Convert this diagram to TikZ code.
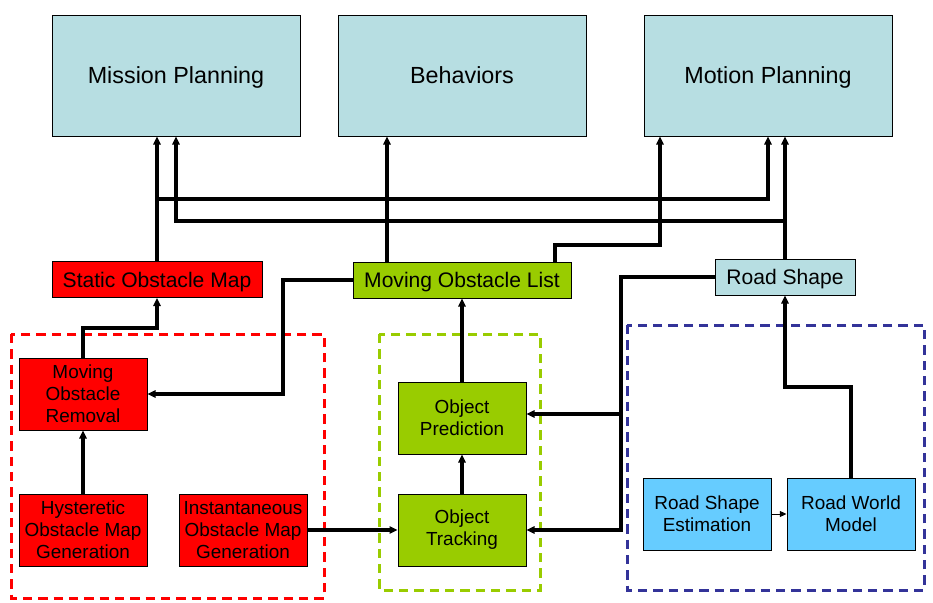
\documentclass[tikz,border=0pt]{standalone}
\usepackage{fontspec}
\setmainfont{Liberation Sans}
\usepackage{xcolor}
\usetikzlibrary{arrows.meta,positioning,calc}
\definecolor{planblue}{RGB}{183,222,226}
\definecolor{obstred}{RGB}{255,0,0}
\definecolor{trackgreen}{RGB}{153,204,0}
\definecolor{roadblue}{RGB}{102,204,255}
\definecolor{framenavy}{RGB}{51,51,153}

\begin{document}
\begin{tikzpicture}[x=0.75pt, y=-0.75pt,
  box/.style={draw, line width=0.75pt, align=center, inner sep=0pt,
              minimum width=96pt, minimum height=54pt,
              font=\fontsize{14.2}{16.5}\selectfont},
  plan/.style={box, fill=planblue, minimum width=186pt, minimum height=90.75pt,
               text depth=0pt, font=\fontsize{17.5}{21}\selectfont},
  outbox/.style={box, minimum height=27pt, text depth=0pt,
                 font=\fontsize{15.8}{19}\selectfont},
  obst/.style={box, fill=obstred}, track/.style={box, fill=trackgreen},
  road/.style={box, fill=roadblue},
  conn/.style={line width=2.3pt, -{Triangle[length=6pt,width=5.5pt]}},
  frame/.style={line width=2.25pt, dash pattern=on 7pt off 4.5pt}]
\useasboundingbox (0,0) rectangle (933,603);
% dashed groups
\draw[frame, obstred] (11,334) rectangle (324,598);
\draw[frame, trackgreen] (379,334) rectangle (540,590);
\draw[frame, framenavy] (627,325) rectangle (924,590);
% planners
\node[plan] (mission) at (176,75.5) {Mission Planning};
\node[plan] (behave) at (462,75.5) {Behaviors};
\node[plan] (motion) at (768,75.5) {Motion Planning};
% outputs
\node[outbox, fill=obstred, minimum width=157.5pt] (som) at (157,279.5) {Static Obstacle Map};
\node[outbox, fill=trackgreen, minimum width=163.5pt] (mol) at (462,280) {Moving Obstacle List};
\node[outbox, fill=planblue, minimum width=105pt] (rs) at (785,277) {Road Shape};
% modules
\node[obst] (mor) at (83,394) {Moving\\Obstacle\\Removal};
\node[obst] (hyst) at (83,530) {Hysteretic\\Obstacle Map\\Generation};
\node[obst] (inst) at (243,530) {Instantaneous\\Obstacle Map\\Generation};
\node[track] (pred) at (462,418) {Object\\Prediction};
\node[track] (trk) at (462,530) {Object\\Tracking};
\node[road] (rse) at (707,514) {Road Shape\\Estimation};
\node[road] (rwm) at (851,514) {Road World\\Model};
% bends
\coordinate (busS) at (0,199);
\coordinate (busR) at (0,221);
\coordinate (jM) at (660,245);
\coordinate (jL) at (283,394);
\coordinate (jS) at (157,328);
\coordinate (jR) at (621,530);
\coordinate (jP) at (621,414);
\coordinate (jW) at (785,387);
% connectors
\draw[conn] (som.north) -- (som.north |- mission.south);
\draw[conn] (som.north |- busS) -| (motion.south);
\draw[conn] (rs.north) -- (rs.north |- motion.south);
\draw[conn] (rs.north |- busR) -| (mission.south);
\draw[conn] ($(mol.north)+(-75,0)$) -- ($(behave.south)+(-75,0)$);
\draw[conn] ($(mol.north)+(93,0)$) |- (jM) -- (jM |- motion.south);
\draw[conn] (mol.west) -| (jL) -- (mor.east);
\draw[conn] (mor.north) |- (jS) -- (som.south);
\draw[conn] (hyst) -- (mor);
\draw[conn] (inst) -- (trk);
\draw[conn] (trk) -- (pred);
\draw[conn] (pred) -- (mol);
\draw[conn] (rs.west) -| (jR) -- (trk.east);
\draw[conn] (jP) -- (jP -| pred.east);
\draw[conn] (rwm.north) |- (jW) -- (rs.south);
\draw[line width=0.75pt, -{Triangle[length=5pt,width=4.5pt]}] (rse) -- (rwm);
\end{tikzpicture}
\end{document}
